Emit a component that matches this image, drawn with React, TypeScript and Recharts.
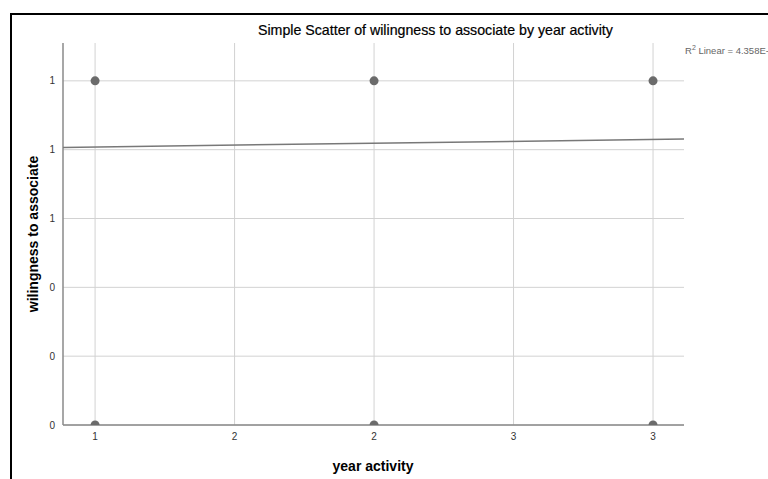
import React from 'react';
import { ScatterChart, Scatter, XAxis, YAxis, CartesianGrid } from 'recharts';

// observed cases (year activity, willingness to associate)
const xValues = [1, 2, 3, 1, 2, 3];
const yValues = [1, 1, 1, 0, 0, 0];

// axis ticks (labels shown rounded, as in the SPSS output)
const xTicks = [1, 1.5, 2, 2.5, 3];
const yTicks = [0, 0.2, 0.4, 0.6, 0.8, 1.0];

// fitted linear line, endpoints
const fitX = [0.885, 3.111];
const fitY = [0.8066, 0.8307];

const points = xValues.map((x, i) => ({ x, y: yValues[i] }));
const fitLine = fitX.map((x, i) => ({ x, y: fitY[i] }));

const FONT = '"Liberation Sans", Arial, sans-serif';

const round = (v: number) => String(Math.round(v));

export default function App() {
  return (
    <div
      style={{
        position: 'absolute',
        left: 0,
        top: 0,
        width: 768,
        height: 479,
        overflow: 'hidden',
        background: '#fff',
        fontFamily: FONT,
      }}
    >
      <div
        style={{
          position: 'absolute',
          left: 10,
          top: 13,
          width: 800,
          height: 500,
          borderLeft: '2px solid #000',
          borderTop: '2px solid #000',
          boxSizing: 'border-box',
        }}
      />
      <ScatterChart
        width={768}
        height={479}
        margin={{ top: 43, right: 84, bottom: 24, left: 13 }}
        style={{ position: 'absolute', left: 0, top: 0 }}
      >
        <CartesianGrid
          stroke="#d2d2d2"
          strokeWidth={1}
          horizontalValues={yTicks}
          verticalValues={xTicks}
        />
        <XAxis
          type="number"
          dataKey="x"
          domain={[0.885, 3.111]}
          ticks={xTicks}
          tickFormatter={round}
          allowDataOverflow
          height={30}
          axisLine={{ stroke: '#8a8a8a', strokeWidth: 1.5 }}
          tickLine={false}
          tick={{ fontSize: 10, fill: '#333', fontFamily: FONT }}
        />
        <YAxis
          type="number"
          dataKey="y"
          domain={[0, 1.11]}
          ticks={yTicks}
          tickFormatter={round}
          allowDataOverflow
          width={50}
          axisLine={{ stroke: '#8a8a8a', strokeWidth: 1.5 }}
          tickLine={false}
          tick={{ fontSize: 10, fill: '#333', fontFamily: FONT }}
        />
        <Scatter
          data={fitLine}
          line={{ stroke: '#787878', strokeWidth: 1.5 }}
          shape={() => <g />}
          isAnimationActive={false}
        />
        <Scatter
          data={points}
          fill="#6b6b6b"
          shape={(p: any) => <circle cx={p.cx} cy={p.cy} r={4.5} fill="#6b6b6b" />}
          isAnimationActive={false}
        />
      </ScatterChart>
      <div
        style={{
          position: 'absolute',
          left: 258,
          top: 30,
          transform: 'translateY(-50%)',
          whiteSpace: 'nowrap',
          fontSize: 14.2,
          color: '#000',
          WebkitTextStroke: '0.2px #000',
        }}
      >
        Simple Scatter of wilingness to associate by year activity
      </div>
      <div
        style={{
          position: 'absolute',
          left: 685,
          top: 44,
          whiteSpace: 'nowrap',
          fontSize: 9.5,
          color: '#666',
        }}
      >
        R<sup style={{ fontSize: 7 }}>2</sup> Linear = 4.358E-4
      </div>
      <div
        style={{
          position: 'absolute',
          left: 33,
          top: 234,
          transform: 'translate(-50%, -50%) rotate(-90deg)',
          whiteSpace: 'nowrap',
          fontSize: 14,
          fontWeight: 'bold',
          color: '#000',
        }}
      >
        wilingness to associate
      </div>
      <div
        style={{
          position: 'absolute',
          left: 373,
          top: 466,
          transform: 'translate(-50%, -50%)',
          whiteSpace: 'nowrap',
          fontSize: 14,
          fontWeight: 'bold',
          color: '#000',
        }}
      >
        year activity
      </div>
    </div>
  );
}
